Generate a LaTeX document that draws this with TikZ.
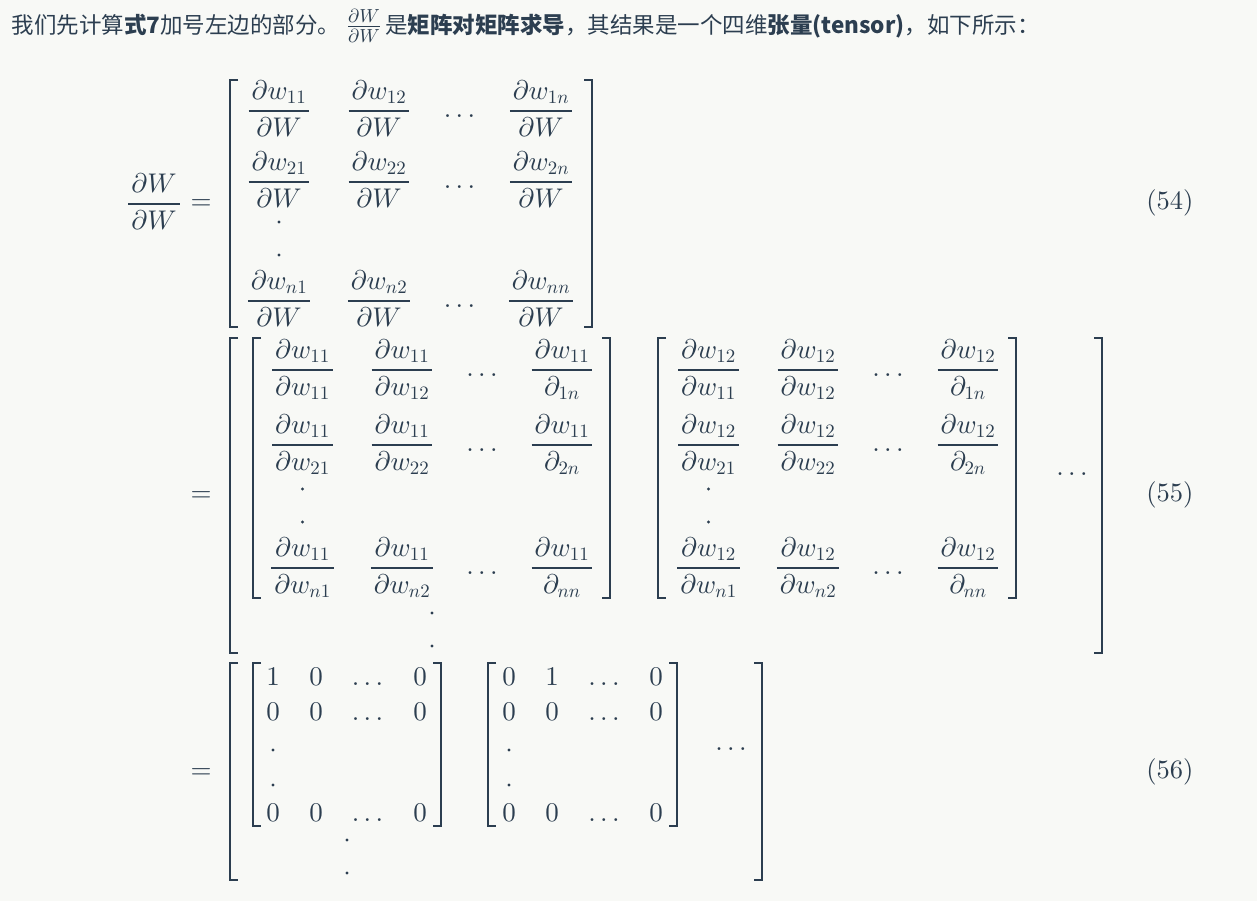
\documentclass[tikz,border=0pt]{standalone}
\usepackage{amsmath}
\usepackage[no-math]{fontspec}
\newfontfamily\cjk{Noto Sans CJK SC}
% one design size for all math sizes (as in KaTeX)
\DeclareFontFamily{OT1}{cmr}{\hyphenchar\font45 }
\DeclareFontShape{OT1}{cmr}{m}{n}{<->cmr10}{}
\DeclareFontShape{OML}{cmm}{m}{it}{<->cmmi10}{}
\DeclareFontShape{OMS}{cmsy}{m}{n}{<->cmsy10}{}
\definecolor{ink}{HTML}{2C3E50}
\definecolor{bgc}{HTML}{F8F9F6}
\newcommand{\myfrac}[2]{\genfrac{}{}{2pt}{0}{\mkern2mu#1\mkern2mu}{\mkern2mu#2\mkern2mu}}
\newcommand{\lbrk}[3]{\draw[brk] ({#1+8},#2) -- (#1,#2) -- (#1,#3) -- ({#1+8},#3);}
\newcommand{\rbrk}[3]{\draw[brk] ({#1-8},#2) -- (#1,#2) -- (#1,#3) -- ({#1-8},#3);}
\newcommand{\vdt}[2]{\fill[ink] (#1,#2) circle (1.6);}
\tikzset{
  mth/.style={inner sep=0pt, outer sep=0pt, anchor=base, text=ink, font=\fontsize{27}{32}\selectfont},
  eqno/.style={inner sep=0pt, anchor=center, text=ink, font=\fontsize{26.5}{32}\selectfont},
  txt/.style={inner sep=0pt, anchor=base west, text=ink, font=\cjk\fontsize{22.5}{27}\selectfont},
  brk/.style={draw=ink, line width=2.6pt, line join=miter, line cap=butt},
}
\begin{document}
\begin{tikzpicture}[x=1pt,y=-1pt]
\fill[bgc] (0,0) rectangle (1257,901);
\useasboundingbox (0,0) rectangle (1257,901);

% title line
\node[txt] (t1) at (11.5,34) {我们先计算\textbf{式7}加号左边的部分。};
\node[inner sep=0pt, anchor=base, text=ink, font=\fontsize{27}{32}\selectfont] (tf) at (364,33.5) {$\genfrac{}{}{1.4pt}{1}{\partial W}{\partial W}$};
\node[txt] (t2) at (385,34) {是\textbf{矩阵对矩阵求导}，其结果是一个四维\textbf{张量(tensor)}，如下所示：};

% ---------------- (54)
\node[mth] (lhs) at (154,210.7) {$\myfrac{\partial W}{\partial W}$};
\node[mth] (eqA) at (201,209.7) {$=$};
\lbrk{230}{80}{327}
\rbrk{592}{80}{327}
\node[mth] (a11) at (279,117.7) {$\myfrac{\partial w_{11}}{\partial W}$};
\node[mth] (a12) at (379,117.7) {$\myfrac{\partial w_{12}}{\partial W}$};
\node[mth] (a1d) at (459.5,117.7) {$\ldots$};
\node[mth] (a1n) at (541,117.7) {$\myfrac{\partial w_{1n}}{\partial W}$};
\node[mth] (a21) at (279,188.7) {$\myfrac{\partial w_{21}}{\partial W}$};
\node[mth] (a22) at (379,188.7) {$\myfrac{\partial w_{22}}{\partial W}$};
\node[mth] (a2d) at (459.5,188.7) {$\ldots$};
\node[mth] (a2n) at (541,188.7) {$\myfrac{\partial w_{2n}}{\partial W}$};
\vdt{279}{222}
\vdt{279}{255}
\node[mth] (an1) at (279,307.7) {$\myfrac{\partial w_{n1}}{\partial W}$};
\node[mth] (an2) at (379,307.7) {$\myfrac{\partial w_{n2}}{\partial W}$};
\node[mth] (and) at (459.5,307.7) {$\ldots$};
\node[mth] (ann) at (541,307.7) {$\myfrac{\partial w_{nn}}{\partial W}$};
\node[eqno] (n54) at (1170,203) {$(54)$};

% ---------------- (55)
\node[mth] (eqB) at (201,501.7) {$=$};
\lbrk{230}{338}{653}
\rbrk{1102}{338}{653}
% inner block 1
\lbrk{253}{338}{598}
\rbrk{610}{338}{598}
\node[mth] (p11) at (302.5,376.7) {$\myfrac{\partial w_{11}}{\partial w_{11}}$};
\node[mth] (p12) at (402,376.7) {$\myfrac{\partial w_{11}}{\partial w_{12}}$};
\node[mth] (p1d) at (482,376.7) {$\ldots$};
\node[mth] (p1n) at (562,376.7) {$\myfrac{\partial w_{11}}{\partial_{1n}}$};
\node[mth] (p21) at (302.5,451.7) {$\myfrac{\partial w_{11}}{\partial w_{21}}$};
\node[mth] (p22) at (402,451.7) {$\myfrac{\partial w_{11}}{\partial w_{22}}$};
\node[mth] (p2d) at (482,451.7) {$\ldots$};
\node[mth] (p2n) at (562,451.7) {$\myfrac{\partial w_{11}}{\partial_{2n}}$};
\vdt{302.5}{489}
\vdt{302.5}{522}
\node[mth] (pn1) at (302.5,574.7) {$\myfrac{\partial w_{11}}{\partial w_{n1}}$};
\node[mth] (pn2) at (402,574.7) {$\myfrac{\partial w_{11}}{\partial w_{n2}}$};
\node[mth] (pnd) at (482,574.7) {$\ldots$};
\node[mth] (pnn) at (562,574.7) {$\myfrac{\partial w_{11}}{\partial_{nn}}$};
% inner block 2
\lbrk{658}{338}{598}
\rbrk{1016}{338}{598}
\node[mth] (q11) at (708.5,376.7) {$\myfrac{\partial w_{12}}{\partial w_{11}}$};
\node[mth] (q12) at (808,376.7) {$\myfrac{\partial w_{12}}{\partial w_{12}}$};
\node[mth] (q1d) at (888,376.7) {$\ldots$};
\node[mth] (q1n) at (968,376.7) {$\myfrac{\partial w_{12}}{\partial_{1n}}$};
\node[mth] (q21) at (708.5,451.7) {$\myfrac{\partial w_{12}}{\partial w_{21}}$};
\node[mth] (q22) at (808,451.7) {$\myfrac{\partial w_{12}}{\partial w_{22}}$};
\node[mth] (q2d) at (888,451.7) {$\ldots$};
\node[mth] (q2n) at (968,451.7) {$\myfrac{\partial w_{12}}{\partial_{2n}}$};
\vdt{708.5}{489}
\vdt{708.5}{522}
\node[mth] (qn1) at (708.5,574.7) {$\myfrac{\partial w_{12}}{\partial w_{n1}}$};
\node[mth] (qn2) at (808,574.7) {$\myfrac{\partial w_{12}}{\partial w_{n2}}$};
\node[mth] (qnd) at (888,574.7) {$\ldots$};
\node[mth] (qnn) at (968,574.7) {$\myfrac{\partial w_{12}}{\partial_{nn}}$};
\node[mth] (bdots) at (1072,475.4) {$\ldots$};
\vdt{432}{613}
\vdt{432}{646}
\node[eqno] (n55) at (1170,495) {$(55)$};

% ---------------- (56)
\node[mth] (eqC) at (201,778.2) {$=$};
\lbrk{230}{663}{880}
\rbrk{762}{663}{880}
\lbrk{253}{663}{826}
\rbrk{441}{663}{826}
\node[mth] (c11) at (273,685) {$1$};
\node[mth] (c12) at (316,685) {$0$};
\node[mth] (c1d) at (367.5,685) {$\ldots$};
\node[mth] (c1n) at (420,685) {$0$};
\node[mth] (c21) at (273,720) {$0$};
\node[mth] (c22) at (316,720) {$0$};
\node[mth] (c2d) at (367.5,720) {$\ldots$};
\node[mth] (c2n) at (420,720) {$0$};
\vdt{273}{750}
\vdt{273}{785}
\node[mth] (cn1) at (273,821) {$0$};
\node[mth] (cn2) at (316,821) {$0$};
\node[mth] (cnd) at (367.5,821) {$\ldots$};
\node[mth] (cnn) at (420,821) {$0$};
\lbrk{488}{663}{826}
\rbrk{677}{663}{826}
\node[mth] (d11) at (509,685) {$0$};
\node[mth] (d12) at (552,685) {$1$};
\node[mth] (d1d) at (604,685) {$\ldots$};
\node[mth] (d1n) at (656,685) {$0$};
\node[mth] (d21) at (509,720) {$0$};
\node[mth] (d22) at (552,720) {$0$};
\node[mth] (d2d) at (604,720) {$\ldots$};
\node[mth] (d2n) at (656,720) {$0$};
\vdt{509}{750}
\vdt{509}{785}
\node[mth] (dn1) at (509,821) {$0$};
\node[mth] (dn2) at (552,821) {$0$};
\node[mth] (dnd) at (604,821) {$\ldots$};
\node[mth] (dnn) at (656,821) {$0$};
\node[mth] (cdots) at (731,750.4) {$\ldots$};
\vdt{347}{840}
\vdt{347}{873}
\node[eqno] (n56) at (1170,772) {$(56)$};
\end{tikzpicture}
\end{document}
